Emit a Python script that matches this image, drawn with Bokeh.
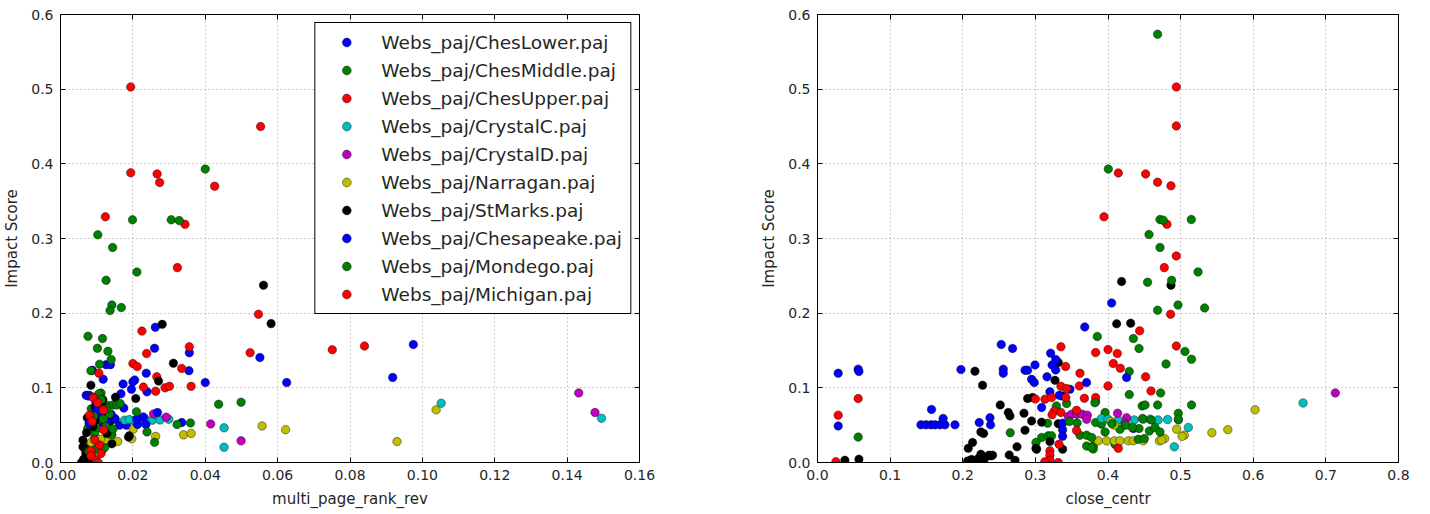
from bokeh.plotting import figure
from bokeh.models import (FixedTicker, NumeralTickFormatter, Legend, LegendItem,
                          LinearAxis, Range1d, ColumnDataSource, CustomJSTickFormatter)
from bokeh.layouts import row
from bokeh.embed import file_html
from bokeh.resources import INLINE

# ---------------- data ----------------
series_names = ["Webs_paj/ChesLower.paj", "Webs_paj/ChesMiddle.paj", "Webs_paj/ChesUpper.paj",
                "Webs_paj/CrystalC.paj", "Webs_paj/CrystalD.paj", "Webs_paj/Narragan.paj",
                "Webs_paj/StMarks.paj", "Webs_paj/Chesapeake.paj", "Webs_paj/Mondego.paj",
                "Webs_paj/Michigan.paj"]
series_colors = ["#0000ff", "#008000", "#ff0000", "#00bfbf", "#bf00bf", "#bfbf00",
                 "#000000", "#0000ff", "#008000", "#ff0000"]

left_x_ticks = [0.0, 0.02, 0.04, 0.06, 0.08, 0.10, 0.12, 0.14, 0.16]
right_x_ticks = [0.0, 0.1, 0.2, 0.3, 0.4, 0.5, 0.6, 0.7, 0.8]
y_ticks = [0.0, 0.1, 0.2, 0.3, 0.4, 0.5, 0.6]

# ChesLower
ches_lower_pr_x = [0.0262, 0.0260, 0.0356, 0.0126, 0.0138, 0.0355, 0.0088, 0.0237, 0.0118, 0.0205,
                   0.0200, 0.0173, 0.0196, 0.0239, 0.0071, 0.0167, 0.0175, 0.0151, 0.0163, 0.0182]
ches_lower_pr_y = [0.181, 0.153, 0.147, 0.131, 0.131, 0.123, 0.1236, 0.1196, 0.1115, 0.1106,
                   0.108, 0.105, 0.098, 0.0946, 0.090, 0.092, 0.073, 0.058, 0.050, 0.050]
ches_lower_cc_x = [0.0285, 0.056, 0.057, 0.0285, 0.1424, 0.1493, 0.1562, 0.1617, 0.1686, 0.1755,
                   0.1893, 0.157, 0.173, 0.1975, 0.253, 0.2686, 0.2558, 0.2558, 0.2857, 0.2893]
ches_lower_cc_y = [0.1196, 0.125, 0.122, 0.049, 0.0504, 0.0504, 0.0504, 0.0504, 0.0504, 0.0504,
                   0.0504, 0.071, 0.059, 0.1245, 0.158, 0.1527, 0.125, 0.1196, 0.1236, 0.1236]

# ChesMiddle
ches_middle_pr_x = [0.0103, 0.0144, 0.0126, 0.0142, 0.0137, 0.0168, 0.0076, 0.0116, 0.0102, 0.0131,
                    0.0140, 0.0108, 0.0084, 0.0112, 0.0080, 0.0106, 0.0131, 0.0145, 0.0101, 0.0075,
                    0.0094, 0.0069, 0.0142, 0.0085, 0.0090, 0.0095, 0.0103, 0.0110]
ches_middle_pr_y = [0.305, 0.288, 0.244, 0.211, 0.2035, 0.2075, 0.169, 0.166, 0.153, 0.149,
                    0.138, 0.1317, 0.123, 0.093, 0.090, 0.092, 0.0763, 0.077, 0.060, 0.0455,
                    0.0335, 0.0236, 0.037, 0.072, 0.052, 0.040, 0.047, 0.030]
ches_middle_cc_x = [0.4004, 0.4565, 0.4716, 0.4545, 0.4683, 0.3853, 0.4349, 0.4427, 0.4799, 0.4293,
                    0.4293, 0.383, 0.447, 0.451, 0.396, 0.383, 0.391, 0.4165, 0.396, 0.3797,
                    0.3797, 0.4096, 0.056, 0.2654, 0.329, 0.343, 0.3168, 0.3086, 0.3008, 0.3177,
                    0.3223, 0.3614, 0.3706]
ches_middle_cc_y = [0.393, 0.3053, 0.288, 0.2415, 0.204, 0.1687, 0.166, 0.1527, 0.132, 0.122,
                    0.091, 0.0815, 0.0758, 0.0771, 0.067, 0.0536, 0.0513, 0.0446, 0.041, 0.022,
                    0.018, 0.0245, 0.034, 0.040, 0.0758, 0.079, 0.0527, 0.0335, 0.0268, 0.0357,
                    0.0357, 0.0366, 0.0366]

# ChesUpper
ches_upper_pr_x = [0.0194, 0.0194, 0.0267, 0.0274, 0.0124, 0.0344, 0.0323, 0.0225, 0.0356, 0.0238,
                   0.0200, 0.0212, 0.0335, 0.0106, 0.0266, 0.0289, 0.0301, 0.0361, 0.0229, 0.0263]
ches_upper_pr_y = [0.503, 0.388, 0.3865, 0.375, 0.329, 0.319, 0.261, 0.176, 0.155, 0.146,
                   0.1325, 0.1285, 0.126, 0.1196, 0.115, 0.100, 0.102, 0.102, 0.101, 0.0955]
ches_upper_cc_x = [0.4941, 0.4142, 0.4518, 0.4683, 0.3945, 0.4812, 0.4775, 0.4436, 0.3352, 0.400,
                   0.4128, 0.4073, 0.417, 0.3614, 0.4518, 0.3605, 0.400, 0.4592, 0.3674, 0.383]
ches_upper_cc_y = [0.503, 0.3878, 0.3865, 0.3754, 0.329, 0.319, 0.261, 0.1763, 0.155, 0.1513,
                   0.146, 0.1326, 0.1263, 0.1196, 0.1147, 0.1026, 0.1026, 0.0959, 0.086, 0.087]

# CrystalC
crystal_c_pr_x = [0.0177, 0.0202, 0.0220, 0.0235, 0.0254, 0.0299, 0.0452, 0.0452, 0.1052, 0.1495,
                  0.0190, 0.0275]
crystal_c_pr_y = [0.0567, 0.0562, 0.058, 0.058, 0.0567, 0.058, 0.0464, 0.0205, 0.0794, 0.0593,
                  0.0575, 0.057]
crystal_c_cc_x = [0.391, 0.400, 0.414, 0.436, 0.4486, 0.458, 0.469, 0.482, 0.497, 0.4913,
                  0.5106, 0.6686]
crystal_c_cc_y = [0.059, 0.058, 0.057, 0.057, 0.058, 0.058, 0.057, 0.0576, 0.057, 0.021,
                  0.047, 0.0798]

# CrystalD
crystal_d_pr_x = [0.0257, 0.0292, 0.0415, 0.0499, 0.1432, 0.1477]
crystal_d_pr_y = [0.065, 0.0607, 0.0517, 0.029, 0.0932, 0.067]
crystal_d_cc_x = [0.3453, 0.350, 0.357, 0.3646, 0.3715, 0.3706, 0.4132, 0.4256, 0.4234, 0.713]
crystal_d_cc_y = [0.0616, 0.0647, 0.0647, 0.0647, 0.0634, 0.058, 0.066, 0.060, 0.0527, 0.0932]

# Narragan
narragan_pr_x = [0.0557, 0.0622, 0.0340, 0.0361, 0.0201, 0.0197, 0.0263, 0.0158, 0.0126, 0.1038,
                 0.0930, 0.0085, 0.0110]
narragan_pr_y = [0.049, 0.044, 0.037, 0.039, 0.0446, 0.0317, 0.035, 0.028, 0.028, 0.0705,
                 0.028, 0.027, 0.031]
narragan_cc_x = [0.3866, 0.398, 0.4087, 0.4165, 0.428, 0.4349, 0.4486, 0.4707, 0.478, 0.404,
                 0.4087, 0.4945, 0.505, 0.502, 0.543, 0.565, 0.6025, 0.474]
narragan_cc_y = [0.029, 0.029, 0.029, 0.029, 0.029, 0.029, 0.029, 0.029, 0.032, 0.0549,
                 0.050, 0.0446, 0.0366, 0.035, 0.040, 0.044, 0.0705, 0.030]

# StMarks
st_marks_pr_x = [0.0561, 0.0582, 0.0281, 0.0312, 0.0271, 0.0084, 0.0152, 0.0208, 0.0188, 0.0142,
                 0.0115, 0.0062, 0.0062, 0.0064, 0.0190, 0.0058, 0.0066, 0.0070, 0.0075, 0.0086,
                 0.0090, 0.0105, 0.0115, 0.0125, 0.0128, 0.0098, 0.0108, 0.0135, 0.0117, 0.0095,
                 0.0074, 0.0072, 0.0068]
st_marks_pr_y = [0.2375, 0.186, 0.185, 0.133, 0.109, 0.1035, 0.0875, 0.0857, 0.034, 0.025,
                 0.017, 0.030, 0.021, 0.0045, 0.0357, 0.0, 0.001, 0.012, 0.008, 0.0,
                 0.048, 0.075, 0.078, 0.062, 0.039, 0.057, 0.066, 0.054, 0.084, 0.074,
                 0.060, 0.040, 0.018]
st_marks_cc_x = [0.0377, 0.057, 0.2168, 0.2273, 0.2516, 0.2627, 0.265, 0.2843, 0.2857, 0.2948,
                 0.2893, 0.2961, 0.225, 0.2287, 0.2076, 0.2135, 0.212, 0.221, 0.230, 0.239,
                 0.225, 0.264, 0.2747, 0.272, 0.236, 0.241, 0.3008, 0.3315, 0.327, 0.337,
                 0.4187, 0.4867, 0.4119, 0.4312, 0.3017, 0.2067, 0.218, 0.2235, 0.228, 0.3375,
                 0.3315, 0.3086, 0.320]
st_marks_cc_y = [0.003, 0.0045, 0.1223, 0.1035, 0.0771, 0.067, 0.0624, 0.066, 0.0433, 0.0557,
                 0.0857, 0.087, 0.041, 0.039, 0.019, 0.0268, 0.004, 0.005, 0.005, 0.009,
                 0.011, 0.010, 0.021, 0.003, 0.0098, 0.0098, 0.019, 0.134, 0.110, 0.089,
                 0.2424, 0.2374, 0.1857, 0.1866, 0.0179, 0.002, 0.001, 0.0, 0.003, 0.0179,
                 0.052, 0.054, 0.028]

# Chesapeake
chesapeake_pr_x = [0.0551, 0.0400, 0.0625, 0.0975, 0.0918, 0.0335, 0.0236, 0.0229, 0.0268, 0.0079,
                   0.0150, 0.0119, 0.0213, 0.0105, 0.0077, 0.0098, 0.0099, 0.0128, 0.0211, 0.0140]
chesapeake_pr_y = [0.1406, 0.107, 0.107, 0.158, 0.114, 0.0535, 0.051, 0.061, 0.067, 0.0526,
                   0.059, 0.052, 0.051, 0.066, 0.089, 0.080, 0.069, 0.054, 0.058, 0.0645]
chesapeake_cc_x = [0.2995, 0.2948, 0.2985, 0.2227, 0.2375, 0.2383, 0.321, 0.328, 0.323, 0.328,
                   0.316, 0.3086, 0.320, 0.333, 0.3476, 0.368, 0.3705, 0.3375, 0.3375, 0.405,
                   0.4256, 0.4349, 0.3375]
chesapeake_cc_y = [0.1307, 0.1115, 0.107, 0.0535, 0.060, 0.0504, 0.1464, 0.138, 0.1307, 0.124,
                   0.1147, 0.0737, 0.0946, 0.090, 0.098, 0.1816, 0.107, 0.0527, 0.0437, 0.2137,
                   0.1138, 0.0455, 0.035]

# Mondego
mondego_pr_x = [0.0400, 0.0199, 0.0306, 0.0328, 0.0211, 0.0437, 0.0499, 0.0210, 0.0260, 0.0239,
                0.0359, 0.0322, 0.0118, 0.0125, 0.0135, 0.0078, 0.0088, 0.0155, 0.0165, 0.0145,
                0.0122, 0.0098, 0.0128, 0.0092, 0.0113]
mondego_pr_y = [0.393, 0.325, 0.325, 0.324, 0.255, 0.078, 0.0807, 0.068, 0.027, 0.041,
                0.053, 0.051, 0.058, 0.048, 0.065, 0.015, 0.008, 0.077, 0.079, 0.045,
                0.020, 0.018, 0.072, 0.062, 0.084]
mondego_cc_x = [0.4683, 0.4716, 0.476, 0.5147, 0.524, 0.4876, 0.4964, 0.533, 0.506, 0.515,
                0.4725, 0.4683, 0.515, 0.4968, 0.4476, 0.4596, 0.4427, 0.4417, 0.450, 0.457,
                0.4647, 0.4716, 0.3775, 0.382, 0.3706, 0.3775, 0.4968, 0.4245, 0.4335, 0.4055,
                0.3575, 0.347]
mondego_cc_y = [0.5736, 0.3254, 0.3245, 0.3254, 0.2553, 0.244, 0.211, 0.207, 0.1487, 0.1383,
                0.0932, 0.0771, 0.0771, 0.066, 0.059, 0.057, 0.0455, 0.031, 0.032, 0.0423,
                0.0468, 0.041, 0.0335, 0.080, 0.022, 0.020, 0.058, 0.050, 0.047, 0.052,
                0.053, 0.055]

# Michigan
michigan_pr_x = [0.0553, 0.0426, 0.0547, 0.0524, 0.0751, 0.0840, 0.0090, 0.0091, 0.0119, 0.0080,
                 0.0119, 0.0118, 0.0108, 0.0084, 0.0084, 0.0099, 0.0104, 0.0112, 0.0095, 0.0088,
                 0.0102]
michigan_pr_y = [0.450, 0.370, 0.1986, 0.147, 0.151, 0.156, 0.0875, 0.0866, 0.0714, 0.0634,
                 0.0437, 0.070, 0.0236, 0.0156, 0.009, 0.0027, 0.0, 0.012, 0.030, 0.055,
                 0.080]
michigan_cc_x = [0.4941, 0.4867, 0.4941, 0.4862, 0.383, 0.4941, 0.3416, 0.3352, 0.343, 0.3132,
                 0.3223, 0.342, 0.300, 0.326, 0.323, 0.3352, 0.3567, 0.3567, 0.3325, 0.320,
                 0.320, 0.320, 0.313, 0.3315, 0.4142, 0.056, 0.0285, 0.0253]
michigan_cc_y = [0.4508, 0.3705, 0.2767, 0.1986, 0.1473, 0.156, 0.1286, 0.102, 0.099, 0.0848,
                 0.087, 0.087, 0.085, 0.069, 0.064, 0.067, 0.070, 0.043, 0.0245, 0.0156,
                 0.0098, 0.003, 0.001, 0.0, 0.019, 0.0857, 0.0634, 0.001]

left_data = [(ches_lower_pr_x, ches_lower_pr_y), (ches_middle_pr_x, ches_middle_pr_y),
             (ches_upper_pr_x, ches_upper_pr_y), (crystal_c_pr_x, crystal_c_pr_y),
             (crystal_d_pr_x, crystal_d_pr_y), (narragan_pr_x, narragan_pr_y),
             (st_marks_pr_x, st_marks_pr_y), (chesapeake_pr_x, chesapeake_pr_y),
             (mondego_pr_x, mondego_pr_y), (michigan_pr_x, michigan_pr_y)]
right_data = [(ches_lower_cc_x, ches_lower_cc_y), (ches_middle_cc_x, ches_middle_cc_y),
              (ches_upper_cc_x, ches_upper_cc_y), (crystal_c_cc_x, crystal_c_cc_y),
              (crystal_d_cc_x, crystal_d_cc_y), (narragan_cc_x, narragan_cc_y),
              (st_marks_cc_x, st_marks_cc_y), (chesapeake_cc_x, chesapeake_cc_y),
              (mondego_cc_x, mondego_cc_y), (michigan_cc_x, michigan_cc_y)]

FONT = "DejaVu Sans"
TEXT_COLOR = "#262626"


def style_axis(ax, ticks, fmt, label=None, show_labels=True):
    ax.ticker = FixedTicker(ticks=ticks)
    ax.major_tick_in = 5
    ax.major_tick_out = 0
    ax.minor_tick_line_color = None
    ax.axis_line_color = "black"
    ax.major_tick_line_color = "black"
    ax.major_label_text_font = FONT
    ax.major_label_text_color = TEXT_COLOR
    ax.major_label_text_font_size = "14px"
    if show_labels:
        ax.formatter = NumeralTickFormatter(format=fmt)
        ax.major_label_standoff = 7
    else:
        ax.formatter = CustomJSTickFormatter(code="return '';")
        ax.major_label_standoff = 0
    if label is not None:
        ax.axis_label = label
        ax.axis_label_text_font = FONT
        ax.axis_label_text_font_size = "15px"
        ax.axis_label_text_font_style = "normal"
        ax.axis_label_text_color = TEXT_COLOR
        ax.axis_label_standoff = 7


def make_fig(x_end, x_ticks, x_fmt, x_label, frame_w, mb_left, mb_right, data):
    p = figure(frame_width=frame_w, frame_height=448,
               x_range=Range1d(0, x_end), y_range=Range1d(0, 0.6),
               output_backend="svg", toolbar_location=None,
               min_border_left=mb_left, min_border_right=mb_right,
               min_border_top=14, min_border_bottom=30,
               background_fill_color="white", border_fill_color="white")
    p.outline_line_color = "black"
    p.outline_line_width = 1
    p.outline_line_alpha = 1

    style_axis(p.xaxis[0], x_ticks, x_fmt, x_label)
    style_axis(p.yaxis[0], y_ticks, "0.0", "Impact Score")

    top = LinearAxis()
    style_axis(top, x_ticks, x_fmt, show_labels=False)
    p.add_layout(top, "above")
    right = LinearAxis()
    style_axis(right, y_ticks, "0.0", show_labels=False)
    p.add_layout(right, "right")

    for g in (p.xgrid[0], p.ygrid[0]):
        g.grid_line_color = "#a0a0a0"
        g.grid_line_dash = "1 3"
        g.grid_line_width = 1
    p.xgrid[0].ticker = FixedTicker(ticks=x_ticks)
    p.ygrid[0].ticker = FixedTicker(ticks=y_ticks)

    renderers = []
    for (xs, ys), color in zip(data, series_colors):
        src = ColumnDataSource(dict(x=xs, y=ys))
        r = p.scatter("x", "y", source=src, marker="circle", size=8.5,
                      fill_color=color, line_color="#000000", line_width=0.6, line_alpha=0.7)
        renderers.append(r)
    return p, renderers


left, left_renderers = make_fig(0.16, left_x_ticks, "0.00", "multi_page_rank_rev", 579, 54, 60, left_data)
right_fig, _ = make_fig(0.8, right_x_ticks, "0.0", "close_centr", 581, 118, 12, right_data)

legend = Legend(items=[LegendItem(label=n, renderers=[r]) for n, r in zip(series_names, left_renderers)],
                location="top_right")
legend.margin = 8
legend.padding = 8
legend.spacing = 6
legend.label_height = 22
legend.glyph_height = 22
legend.glyph_width = 46
legend.label_standoff = 12
legend.label_text_font = FONT
legend.label_text_font_size = "18.5px"
legend.label_text_color = TEXT_COLOR
legend.border_line_color = "black"
legend.border_line_width = 1
legend.border_line_alpha = 1
legend.background_fill_color = "white"
legend.background_fill_alpha = 1
left.add_layout(legend)

layout = row(left, right_fig)
open("out.html", "w").write(file_html(layout, INLINE))
